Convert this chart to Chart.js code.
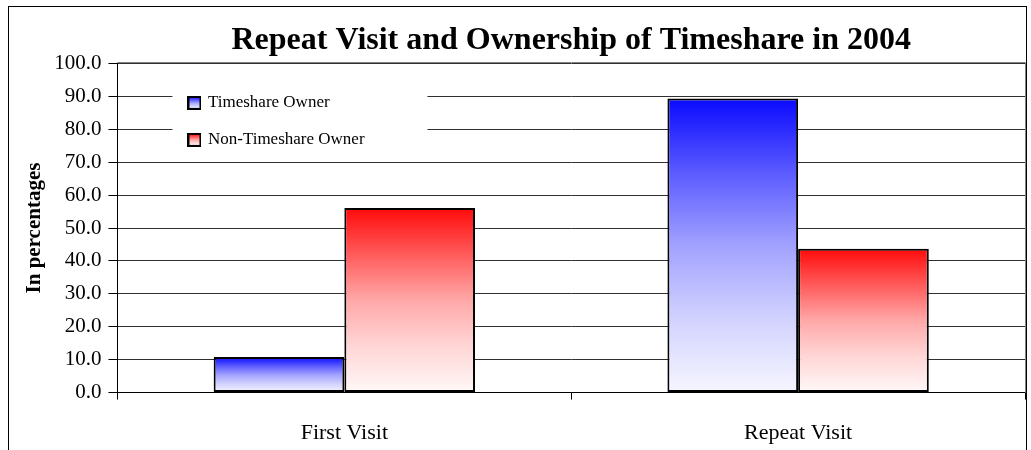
<!DOCTYPE html>
<html>
<head>
<meta charset="utf-8">
<script src="https://cdn.jsdelivr.net/npm/chart.js@4/dist/chart.umd.min.js"></script>
<style>
    html, body { margin: 0; padding: 0; background: #fff; }
</style>
</head>
<body>
<canvas id="visitChart" width="1031" height="450"></canvas>
<script>
// chart data
const categories = ['First Visit', 'Repeat Visit'];
const ownerValues = [10.8, 89.3];
const nonOwnerValues = [56.1, 43.7];
const seriesNames = ['Timeshare Owner', 'Non-Timeshare Owner'];

const SERIF = '"Liberation Serif", "Times New Roman", serif';

const blueStops = ['#0a0aff', '#5a5aff', '#a2a2ff', '#d2d2ff', '#f6f6ff'];
const redStops = ['#ff0a0a', '#ff5a5a', '#ffa8a8', '#ffd6d6', '#fff8f8'];

// vertical gradient per bar, from top of bar to the baseline
function barGradient(stops) {
    return (context) => {
        const chart = context.chart;
        if (context.type !== 'data' || !chart.chartArea) return stops[2];
        const y = chart.scales.y;
        const top = y.getPixelForValue(context.raw);
        const base = y.getPixelForValue(0);
        const g = chart.ctx.createLinearGradient(0, top, 0, base);
        stops.forEach((c, i) => g.addColorStop(i / (stops.length - 1), c));
        return g;
    };
}

// small swatches for the legend
function swatch(stops) {
    const c = document.createElement('canvas');
    c.width = 14;
    c.height = 14;
    const x = c.getContext('2d');
    const g = x.createLinearGradient(0, 1, 0, 13);
    stops.forEach((s, i) => g.addColorStop(i / (stops.length - 1), s));
    x.fillStyle = g;
    x.fillRect(1, 1, 12, 12);
    x.strokeStyle = '#000';
    x.lineWidth = 2;
    x.strokeRect(1, 1, 12, 12);
    return c;
}
const swatches = [swatch(blueStops), swatch(redStops)];

// outer frame, plot border and legend placement
const framePlugin = {
    id: 'frame',
    afterLayout(chart) {
        const lg = chart.legend;
        const area = chart.chartArea;
        lg.left = area.left + 52;
        lg.top = area.top + 11;
        lg.right = lg.left + lg.width;
        lg.bottom = lg.top + lg.height;
        if (!lg._patched) {
            const orig = lg.draw.bind(lg);
            lg.draw = function () {
                const ctx = this.ctx;
                ctx.save();
                ctx.fillStyle = '#fff';
                ctx.fillRect(this.left + 3, this.top + 7, 255, 67);
                ctx.restore();
                orig();
            };
            lg._patched = true;
        }
    },
    afterDraw(chart) {
        const ctx = chart.ctx;
        const a = chart.chartArea;
        ctx.save();
        ctx.strokeStyle = '#808080';
        ctx.lineWidth = 1;
        ctx.beginPath();
        ctx.moveTo(a.left, Math.round(a.top) - 0.5);
        ctx.lineTo(Math.round(a.right) + 0.5, Math.round(a.top) - 0.5);
        ctx.lineTo(Math.round(a.right) + 0.5, a.bottom);
        ctx.stroke();
        ctx.strokeStyle = '#000';
        ctx.strokeRect(8.5, 6.5, 1018, 470);
        ctx.restore();
    }
};

const ctx = document.getElementById('visitChart').getContext('2d');
new Chart(ctx, {
    type: 'bar',
    data: {
        labels: categories,
        datasets: [{
            label: seriesNames[0],
            data: ownerValues,
            backgroundColor: barGradient(blueStops),
            borderColor: '#000',
            borderWidth: 2,
            borderSkipped: false
        }, {
            label: seriesNames[1],
            data: nonOwnerValues,
            backgroundColor: barGradient(redStops),
            borderColor: '#000',
            borderWidth: 2,
            borderSkipped: false
        }]
    },
    options: {
        responsive: false,
        animation: false,
        devicePixelRatio: 1,
        categoryPercentage: 0.576,
        barPercentage: 1.0,
        layout: { padding: { left: 4, right: 6, top: 0, bottom: -16 } },
        plugins: {
            title: {
                display: true,
                text: 'Repeat Visit and Ownership of Timeshare in 2004',
                fullSize: false,
                color: '#000',
                font: { family: SERIF, size: 32, weight: 'bold' },
                padding: { top: 22, bottom: 3 }
            },
            legend: {
                position: 'chartArea',
                align: 'start',
                fullSize: false,
                labels: {
                    color: '#000',
                    font: { family: SERIF, size: 17 },
                    usePointStyle: true,
                    boxWidth: 10,
                    boxHeight: 14,
                    padding: 20,
                    generateLabels: (chart) => chart.data.datasets.map((ds, i) => ({
                        text: ds.label,
                        pointStyle: swatches[i],
                        fontColor: '#000',
                        lineWidth: 0,
                        datasetIndex: i
                    }))
                }
            },
            tooltip: { enabled: false }
        },
        scales: {
            x: {
                grid: { drawOnChartArea: false, offset: true, tickLength: 7, color: '#000' },
                border: { color: '#000', width: 1 },
                ticks: { color: '#000', font: { family: SERIF, size: 22 }, padding: 20 }
            },
            y: {
                min: 0,
                max: 100,
                ticks: {
                    stepSize: 10,
                    color: '#000',
                    padding: 7,
                    font: { family: SERIF, size: 21 },
                    callback: (v) => v.toFixed(1)
                },
                grid: { color: '#303030', tickColor: '#000', tickLength: 9 },
                border: { color: '#000', width: 1 },
                title: {
                    display: true,
                    text: 'In percentages',
                    color: '#000',
                    font: { family: SERIF, size: 21, weight: 'bold' },
                    padding: { top: 18, bottom: 0 }
                }
            }
        }
    },
    plugins: [framePlugin]
});
</script>
</body>
</html>
